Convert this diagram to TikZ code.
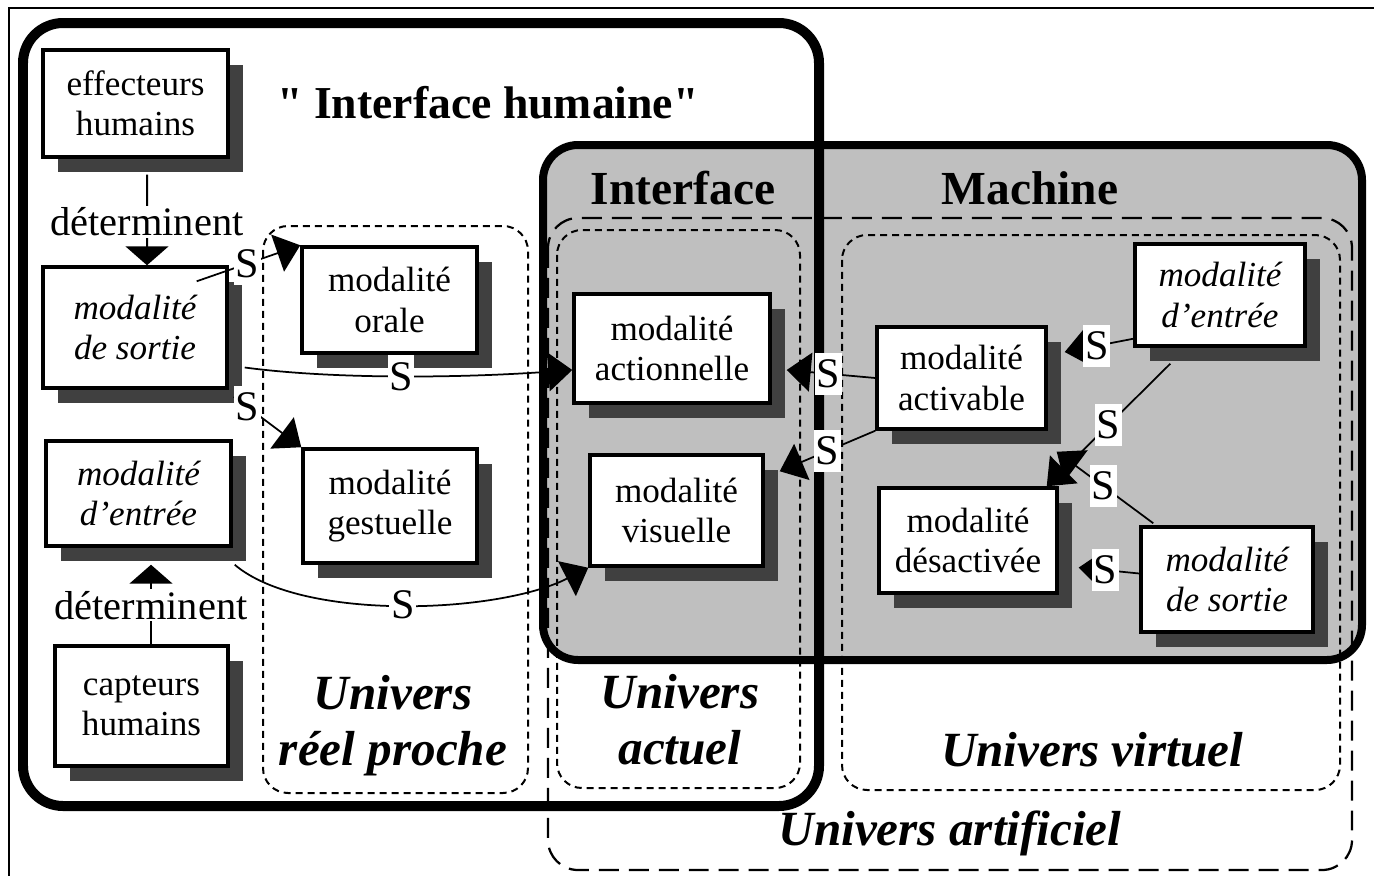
\documentclass[tikz,border=0pt]{standalone}
\usepackage{fontspec}
\setmainfont{Liberation Serif}
\usetikzlibrary{arrows.meta,shadows,calc}

\newcommand{\bxfont}{\fontsize{20}{23}\selectfont}
\newcommand{\slfont}{\fontsize{24}{24}\selectfont}
\newcommand{\dtfont}{\fontsize{23}{23}\selectfont}
\newcommand{\uvfont}{\fontsize{28}{32}\selectfont\bfseries\itshape}
\newcommand{\titfont}{\fontsize{26}{26}\selectfont\bfseries\addfontfeature{Ligatures = TeXOff}}
\newcommand{\panfont}{\fontsize{27}{27}\selectfont\bfseries}

\tikzset{
    modbox/.style = {draw, line width = 0.07cm, fill = white, align = center, inner sep = 0pt, font = \bxfont,
        drop shadow = {shadow xshift = 0.3cm, shadow yshift = -0.3cm, fill = black!75, opacity = 1}},
    italbox/.style = {modbox, font = \bxfont\itshape},
    sarrow/.style = {line width = 0.035cm, -{Triangle[length = 0.48cm, width = 0.78cm]}},
    detarrow/.style = {line width = 0.04cm, -{Triangle[length = 0.38cm, width = 0.86cm]}},
    slabel/.style = {fill = white, inner xsep = 1pt, inner ysep = 4pt, font = \slfont},
    detlabel/.style = {fill = white, inner sep = 1pt, font = \dtfont},
    univers/.style = {dash pattern = on 0.14cm off 0.1cm, line width = 0.04cm, rounded corners = 0.5cm},
    artif/.style = {dash pattern = on 0.4cm off 0.2cm, line width = 0.045cm, rounded corners = 0.6cm}
}

\begin{document}
\begin{tikzpicture}[x = 0.02cm, y = -0.02cm]
    \useasboundingbox (0,0) rectangle (1374,876);
    % cadres
    \draw[line width = 0.05cm] (9,876) -- (9,8) -- (1374,8);
    \draw[line width = 0.16cm, fill = black!25, rounded corners = 0.7cm] (543,145) rectangle (1362,660);
    \draw[artif] (548,218) rectangle (1352,870);
    \draw[univers] (263,226) rectangle (528,793);
    \draw[univers] (557,230) rectangle (800,788);
    \draw[univers] (842,235) rectangle (1340,790);
    \draw[line width = 0.2cm, rounded corners = 0.8cm] (23,23) rectangle (819,806);
    % titres
    \node[font = \titfont] (titre) at (488,103) {" Interface humaine"};
    \node[font = \panfont] (interf) at (683,188) {Interface};
    \node[font = \panfont] (machine) at (1030,188) {Machine};
    \begin{scope}[every node/.append style = {font = \uvfont, align = center}]
        \node (reel) at (393,726) {Univers\\réel proche};
        \node (actuel) at (680,720) {Univers\\actuel};
        \node (virtuel) at (1092,750) {Univers virtuel};
        \node (artificiel) at (950,833) {Univers artificiel};
    \end{scope}
    % modalites
    \node[modbox, minimum width = 3.70cm, minimum height = 2.14cm] (eff) at (135.5,103.5) {effecteurs\\humains};
    \node[italbox, minimum width = 3.68cm, minimum height = 2.42cm] (sortieL) at (135,327.5) {modalité\\de sortie};
    \node[italbox, minimum width = 3.70cm, minimum height = 2.10cm] (entreeL) at (138.5,493.5) {modalité\\d'entrée};
    \node[modbox, minimum width = 3.46cm, minimum height = 2.40cm] (capt) at (141.5,706) {capteurs\\humains};
    \node[modbox, minimum width = 3.50cm, minimum height = 2.12cm] (orale) at (389.5,300) {modalité\\orale};
    \node[modbox, minimum width = 3.48cm, minimum height = 2.28cm] (gest) at (390,506) {modalité\\gestuelle};
    \node[modbox, minimum width = 3.92cm, minimum height = 2.18cm] (action) at (672,348.5) {modalité\\actionnelle};
    \node[modbox, minimum width = 3.46cm, minimum height = 2.22cm] (visu) at (676.5,510.5) {modalité\\visuelle};
    \node[modbox, minimum width = 3.38cm, minimum height = 2.04cm] (activ) at (961.5,378) {modalité\\activable};
    \node[modbox, minimum width = 3.56cm, minimum height = 2.10cm] (desact) at (968,540.5) {modalité\\désactivée};
    \node[italbox, minimum width = 3.40cm, minimum height = 2.04cm] (entreeR) at (1220,295) {modalité\\d'entrée};
    \node[italbox, minimum width = 3.44cm, minimum height = 2.10cm] (sortieR) at (1227,579.5) {modalité\\de sortie};
    % determinent
    \coordinate (effB) at ($(eff.south)+(11.5,16)$);
    \coordinate (sortieT) at ($(sortieL.north)+(12,0)$);
    \draw[detarrow] (effB) -- node[detlabel, pos = 0.52] {déterminent} (sortieT);
    \coordinate (captT) at ($(capt.north)+(9.5,0)$);
    \coordinate (entreeB) at ($(entreeL.south)+(12.5,17)$);
    \draw[detarrow] (captT) -- node[detlabel, pos = 0.49] {déterminent} (entreeB);
    % liens S, cote humain
    \coordinate (s1) at ($(sortieL.north east)+(-32,16)$);
    \draw[sarrow] (s1) -- node[slabel, pos = 0.49] {S} (orale.north west);
    \coordinate (s2) at ($(sortieL.east)+(16,40)$);
    \coordinate (a2) at ($(action.west)+(0,21.5)$);
    \draw[sarrow] (s2) .. controls ($(s2)+(90,12)$) and ($(a2)+(-110,8)$) .. (a2) node[slabel, pos = 0.5] {S};
    \coordinate (s3) at ($(sortieL.south east)+(5,7)$);
    \draw[sarrow] (s3) -- node[slabel, pos = 0.2] {S} (gest.north west);
    \coordinate (e4) at ($(entreeL.south east)+(2,17)$);
    \draw[sarrow] (e4) .. controls ($(e4)+(67,57)$) and ($(visu.south west)+(-90,46)$) .. (visu.south west) node[slabel, pos = 0.5] {S};
    % liens S, cote machine
    \coordinate (a5) at ($(action.east)+(15,21.5)$);
    \draw[sarrow] (activ.west) -- node[slabel, pos = 0.53] {S} (a5);
    \coordinate (v6) at ($(visu.north east)+(15,18)$);
    \draw[sarrow] (activ.south west) -- node[slabel, pos = 0.5] {S} (v6);
    \coordinate (e7) at ($(entreeR.south west)+(0,-9)$);
    \coordinate (a7) at ($(activ.east)+(17,-26)$);
    \draw[sarrow] (e7) -- node[slabel, pos = 0.53] {S} (a7);
    \coordinate (e8) at ($(entreeR.south west)+(37,16)$);
    \coordinate (d8) at ($(desact.north east)+(-12,0)$);
    \draw[sarrow] (e8) -- node[slabel, pos = 0.5] {S} (d8);
    \coordinate (s9) at ($(sortieR.north west)+(14,-2)$);
    \coordinate (a9) at ($(activ.south east)+(9,21)$);
    \draw[sarrow] (s9) -- node[slabel, pos = 0.52] {S} (a9);
    \coordinate (s10) at ($(sortieR.west)+(0,-6)$);
    \coordinate (d10) at ($(desact.east)+(20,27)$);
    \draw[sarrow] (s10) -- node[slabel, pos = 0.56] {S} (d10);
\end{tikzpicture}
\end{document}
